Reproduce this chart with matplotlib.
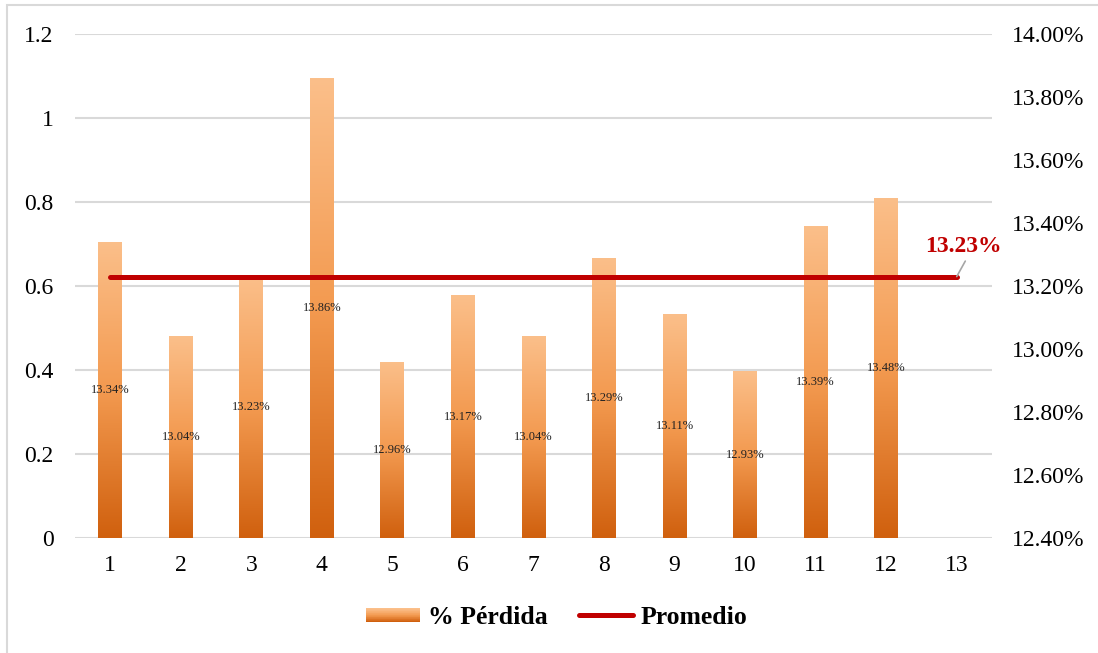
import numpy as np
import matplotlib
matplotlib.use("Agg")
import matplotlib.pyplot as plt
from matplotlib.patches import Rectangle
from matplotlib.lines import Line2D
from matplotlib.legend_handler import HandlerBase
from matplotlib.colors import LinearSegmentedColormap
from matplotlib.ticker import FuncFormatter

plt.rcParams["font.family"] = ["Liberation Serif", "DejaVu Serif"]

# --- data -------------------------------------------------------------
categories = list(range(1, 14))
perdida = [13.34, 13.04, 13.23, 13.86, 12.96, 13.17, 13.04, 13.29, 13.11, 12.93, 13.39, 13.48]
promedio = 13.23
left_ticks = [0, 0.2, 0.4, 0.6, 0.8, 1.0, 1.2]
right_ticks = [12.40, 12.60, 12.80, 13.00, 13.20, 13.40, 13.60, 13.80, 14.00]

# --- styling ----------------------------------------------------------
grad_top, grad_mid, grad_bot = "#FBBF8A", "#F39A50", "#D0600E"
cmap = LinearSegmentedColormap.from_list("orange_grad", [grad_bot, grad_mid, grad_top])
line_color = "#C00000"
grid_color = "#D9D9D9"

fig = plt.figure(figsize=(10.98, 6.53), dpi=100)

# light frame around the chart area
frame = Rectangle((7 / 1098, -0.2), 1.5, 1 - 5 / 653 + 0.2, transform=fig.transFigure,
                  fill=False, edgecolor=grid_color, lw=1.5, zorder=0)
fig.add_artist(frame)

ax = fig.add_axes([75 / 1098, 115 / 653, 917 / 1098, 504 / 653])
ax2 = ax.twinx()

xmin, xmax = 0.5, 13.5
ax.set_xlim(xmin, xmax)
ax.set_ylim(0, 1.2)
ax.set_yticks(left_ticks)
ax.yaxis.set_major_formatter(FuncFormatter(lambda v, p: f"{v:g}"))
ax.set_xticks(categories)
ax.set_xticklabels([str(c) for c in categories])
ax.grid(axis="y", color=grid_color, lw=1.5)
ax.set_axisbelow(True)

ax2.set_ylim(right_ticks[0], right_ticks[-1])
ax2.set_yticks(right_ticks)
ax2.yaxis.set_major_formatter(FuncFormatter(lambda v, p: f"{v:.2f}%"))

for a in (ax, ax2):
    for s in a.spines.values():
        s.set_visible(False)
    a.tick_params(length=0, labelsize=17)
ax.tick_params(axis="y", pad=15.5)
ax.tick_params(axis="x", pad=12)
ax2.tick_params(axis="y", pad=14)

# bars with vertical gradient fill
base = right_ticks[0]
x = np.array(categories[:len(perdida)])
vals = np.array(perdida)
bars = ax2.bar(x, vals - base, bottom=base, width=0.34, color="none", edgecolor="none", zorder=2)
grad = np.linspace(0, 1, 256).reshape(-1, 1)
for rect, v in zip(bars, vals):
    x0 = rect.get_x()
    im = ax2.imshow(grad, cmap=cmap, origin="lower", aspect="auto",
                    extent=(x0, x0 + rect.get_width(), base, v), zorder=2)
    im.set_clip_path(rect)
    ax2.text(rect.get_x() + rect.get_width() / 2, (base + v) / 2, f"{v:.2f}%",
             ha="center", va="center", fontsize=9, color="#222222", zorder=4)
ax2.set_xlim(xmin, xmax)
ax2.set_ylim(right_ticks[0], right_ticks[-1])

# average line
ax2.plot([categories[0], categories[-1]], [promedio, promedio], color=line_color,
         lw=3.6, solid_capstyle="round", zorder=3)
ax2.annotate(f"{promedio:.2f}%", xy=(categories[-1], promedio), xytext=(5, 14),
             textcoords="offset points", ha="center", va="bottom",
             fontsize=17, fontweight="bold", color=line_color,
             arrowprops=dict(arrowstyle="-", color="#A6A6A6", lw=1.2,
                             relpos=(0.55, 0), shrinkA=1, shrinkB=0), zorder=5)


class GradientPatchHandler(HandlerBase):
    def create_artists(self, legend, orig_handle, xdescent, ydescent, width, height,
                       fontsize, trans):
        n = 20
        h = height * 0.75
        y0 = -ydescent + (height - h) / 2
        artists = []
        for i in range(n):
            c = cmap(i / (n - 1))
            r = Rectangle((-xdescent, y0 + h * i / n), width, h / n + 0.3,
                          facecolor=c, edgecolor="none", transform=trans)
            artists.append(r)
        return artists


bar_handle = Rectangle((0, 0), 1, 1)
line_handle = Line2D([], [], color=line_color, lw=3.6, solid_capstyle="round")
fig.legend([bar_handle, line_handle], ["% Pérdida", "Promedio"],
           handler_map={Rectangle: GradientPatchHandler()},
           loc="center", bbox_to_anchor=(0.507, 0.054), ncol=2, frameon=False,
           prop=dict(size=18.5, weight="bold"), handlelength=2.1, handletextpad=0.3,
           columnspacing=1.2)

fig.savefig("out.png", dpi=100)
